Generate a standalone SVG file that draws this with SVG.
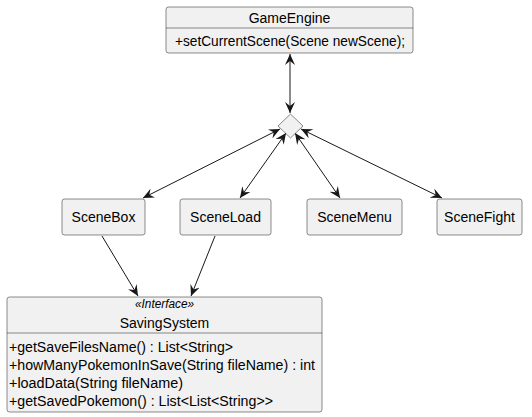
<svg xmlns="http://www.w3.org/2000/svg" width="532" height="417" viewBox="0 0 532 417">
<style>
.box{fill:#F1F1F1;stroke:#181818;stroke-width:0.5}
.sep{stroke:#181818;stroke-width:0.5}
.t{font-family:"Liberation Sans",Arial,sans-serif;font-size:14px;fill:#000}
.m{font-family:"Liberation Sans",Arial,sans-serif;font-size:14px;fill:#000}
.s{font-family:"Liberation Sans",Arial,sans-serif;font-size:12px;font-style:italic;fill:#000}
.e{fill:none;stroke:#181818;stroke-width:1}
</style>
<defs>
<marker id="ah" viewBox="0 0 12 10" refX="11" refY="5" markerWidth="12" markerHeight="10" orient="auto-start-reverse" markerUnits="userSpaceOnUse">
<path d="M0,0 L11,5 L0,10 L4,5 Z" fill="#181818"/>
</marker>
</defs>
<g id="edges">
<line class="e" x1="290" y1="54" x2="290" y2="113" marker-start="url(#ah)" marker-end="url(#ah)"/>
<line class="e" x1="280" y1="129" x2="143" y2="198" marker-start="url(#ah)" marker-end="url(#ah)"/>
<line class="e" x1="286" y1="133" x2="240" y2="198" marker-start="url(#ah)" marker-end="url(#ah)"/>
<line class="e" x1="295" y1="133" x2="340" y2="198" marker-start="url(#ah)" marker-end="url(#ah)"/>
<line class="e" x1="301" y1="129" x2="442" y2="198" marker-start="url(#ah)" marker-end="url(#ah)"/>
<line class="e" x1="102" y1="236" x2="138" y2="296" marker-end="url(#ah)"/>
<line class="e" x1="215" y1="236" x2="191" y2="296" marker-end="url(#ah)"/>
</g>
<g id="GameEngine">
<rect class="box" x="166" y="7" width="247" height="46" rx="2.5"/>
<line class="sep" x1="166" y1="28" x2="413" y2="28"/>
<text class="t" x="289.5" y="23" text-anchor="middle">GameEngine</text>
<text class="m" x="175" y="46" textLength="230" lengthAdjust="spacingAndGlyphs">+setCurrentScene(Scene newScene);</text>
</g>
<g id="diamond">
<polygon class="box" points="290.5,114 303,126 290.5,138 278,126"/>
</g>
<g id="SceneBox">
<rect class="box" x="62" y="199" width="83" height="36" rx="2.5"/>
<text class="t" x="103.5" y="222" text-anchor="middle">SceneBox</text>
</g>
<g id="SceneLoad">
<rect class="box" x="180" y="199" width="91" height="36" rx="2.5"/>
<text class="t" x="225.5" y="222" text-anchor="middle">SceneLoad</text>
</g>
<g id="SceneMenu">
<rect class="box" x="307" y="199" width="95" height="36" rx="2.5"/>
<text class="t" x="354.5" y="222" text-anchor="middle">SceneMenu</text>
</g>
<g id="SceneFight">
<rect class="box" x="437" y="199" width="85" height="36" rx="2.5"/>
<text class="t" x="479.5" y="222" text-anchor="middle">SceneFight</text>
</g>
<g id="SavingSystem">
<rect class="box" x="7" y="297" width="315" height="115" rx="2.5"/>
<line class="sep" x1="7" y1="333" x2="322" y2="333"/>
<text class="s" x="164.5" y="308" text-anchor="middle" textLength="59" lengthAdjust="spacingAndGlyphs">«Interface»</text>
<text class="t" x="164.5" y="328" text-anchor="middle">SavingSystem</text>
<text class="m" x="9" y="352" textLength="224" lengthAdjust="spacingAndGlyphs">+getSaveFilesName() : List&lt;String&gt;</text>
<text class="m" x="9" y="370" textLength="306" lengthAdjust="spacingAndGlyphs">+howManyPokemonInSave(String fileName) : int</text>
<text class="m" x="9" y="388" textLength="174" lengthAdjust="spacingAndGlyphs">+loadData(String fileName)</text>
<text class="m" x="9" y="406" textLength="264" lengthAdjust="spacingAndGlyphs">+getSavedPokemon() : List&lt;List&lt;String&gt;&gt;</text>
</g>
</svg>
